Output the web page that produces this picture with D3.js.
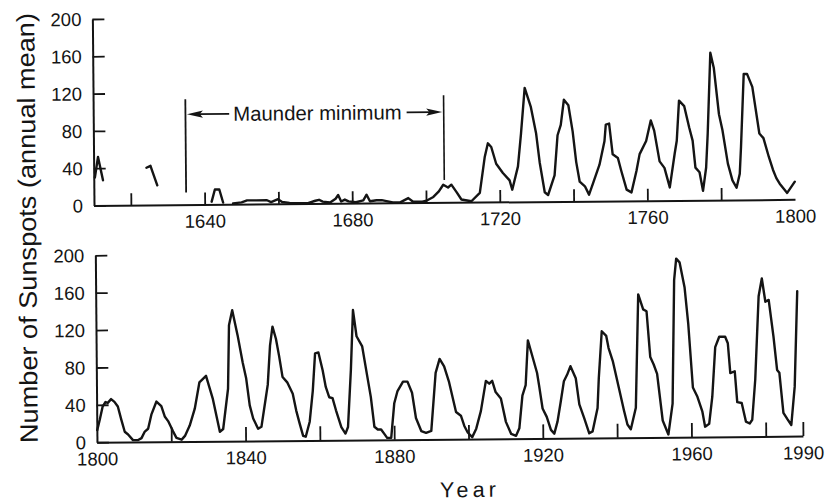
<!DOCTYPE html>
<html><head><meta charset="utf-8">
<script src="https://cdn.jsdelivr.net/npm/d3@7"></script>
<style>body{margin:0;background:#fff}svg{display:block}</style>
</head><body>
<svg id="c" width="828" height="503"></svg>
<script>
// ---- data ----
const topYears = [1610.3,1611.2,1612.5, 1618,
  1624.3,1625.4,1625.9,1627.2, 1634,
  1641.9,1642.8,1644.0,1645.0, 1646.3,
  1647.7,1650,1651.5,1654,1656.9,1658,1659.9,1661,1663,1665,1668,1670,1671,1672,1674,1675.5,1676.2,1677,1678,1679,1681,1683,1683.9,1684.8,1686.6,1688,1689.3,1691,1693,1695.2,1696.5,1699,1700.1,1702,1703.5,1704.7,1706,1706.9,1708.3,1709.6,1712.3,1714.6,1716,1716.9,1717.8,1719.1,1720.9,1722.7,1723.4,1725,1725.9,1727,1728.6,1730,1730.9,1732.2,1733.1,1734.9,1735.8,1736.7,1737.6,1738.8,1739.9,1740.8,1741.7,1743.1,1744.2,1745.3,1747.1,1748.5,1748.9,1749.8,1750.7,1752.1,1753,1754.4,1755.7,1757.1,1758,1759.8,1761.1,1762,1763.4,1764.7,1766.1,1767.5,1768.1,1768.8,1770.2,1771.5,1772.4,1773.1,1774.2,1775.1,1776,1776.5,1777.4,1778.3,1779.6,1780.5,1781.9,1783.1,1784.2,1785.1,1785.5,1786.4,1787.3,1788.7,1790.5,1791.6,1793,1794.1,1795,1795.9,1797.9,1800];
const topValues = [30,52,27, null,
  40,42,36,21, null,
  3,16,16,2, null,
  1,2,4,4,4,2,5,2,1,0.5,0.5,3,4,2,1,5,9,2,4,2,1,3,9,2,3,3,2,0.5,0.5,5,1,1,2,6,12,19,16,19,11,3,1,10,48,63,59,41,31,23,13,38,73,122,102,73,42,10,7,28,71,82,109,103,75,42,21,16,7,19,39,64,82,83,50,46,32,12,9,32,50,64,86,75,42,35,14,50,64,107,101,78,64,35,30,10,35,71,158,142,92,75,39,21,13,28,57,135,135,121,71,66,46,32,23,17,7,19];

const bottomYears = [1800.1,1800.8,1801.6,1802.4,1803.0,1803.9,1804.8,1805.7,1806.6,1807.5,1808.4,1809.7,1811.1,1812.0,1812.9,1813.8,1814.7,1816.1,1817.4,1818.3,1819.2,1820.5,1821.4,1822.8,1823.7,1825.0,1826.4,1827.7,1829.5,1831.3,1833.1,1834.0,1835.4,1835.8,1836.7,1838.1,1839.4,1840.3,1841.2,1842.1,1843.4,1844.3,1845.5,1846.1,1846.8,1847.5,1848.4,1849.2,1850.1,1851.4,1852.8,1853.7,1854.6,1855.5,1856.2,1857.3,1858.2,1858.9,1859.8,1860.9,1861.7,1862.6,1863.5,1864.4,1865.8,1866.9,1867.6,1868.5,1869.2,1870.1,1871.6,1872.9,1873.8,1874.7,1875.6,1876.5,1877.4,1878.1,1879.2,1880.1,1881.0,1882.5,1883.7,1884.9,1885.9,1887.3,1888.6,1890.0,1891.3,1892.4,1893.6,1894.9,1896.7,1898.0,1898.9,1899.8,1901.0,1902.1,1903.4,1904.8,1905.7,1906.5,1907.4,1908.8,1910.1,1911.5,1912.8,1913.7,1914.6,1915.5,1916.2,1917.3,1918.6,1919.1,1920.0,1921.1,1922.2,1923.1,1924.0,1924.9,1925.8,1926.7,1927.6,1929.0,1929.9,1931.2,1932.5,1933.4,1934.8,1935.2,1936.1,1937.3,1937.9,1939.0,1940.6,1941.9,1942.8,1943.7,1945.1,1946.0,1947.3,1948.2,1949.1,1950.0,1950.9,1952.3,1953.8,1955.0,1955.7,1956.3,1957.2,1958.5,1959.4,1960.5,1961.7,1963.0,1963.7,1964.8,1965.7,1966.6,1967.7,1969.3,1970.0,1970.6,1971.8,1972.4,1973.6,1974.7,1975.7,1976.4,1977.3,1978.4,1979.3,1980.2,1981.1,1982.3,1983.2,1983.8,1984.8,1985.9,1986.9,1987.9,1988.8];
const bottomValues = [13,24,38,43,42,46,43,38,24,11,8,2,2,4,11,14,29,43,38,27,22,11,4,2,6,17,35,63,70,45,10,13,56,124,140,113,84,67,38,24,13,15,45,60,102,122,109,91,68,62,50,32,18,5,4,20,53,93,94,75,57,46,45,32,14,7,14,75,139,111,100,68,46,14,11,11,6,2,2,39,52,62,62,50,23,9,7,9,71,86,78,61,29,25,14,7,2,11,30,62,59,62,50,43,18,5,3,11,46,57,105,89,70,57,32,23,9,5,18,39,61,68,77,64,36,21,5,7,32,64,114,109,96,82,53,29,14,9,32,153,137,135,86,78,68,18,3,36,168,191,187,160,121,53,43,27,11,14,43,96,107,107,100,68,70,37,36,16,14,18,61,150,169,144,146,107,71,68,25,18,12,53,155];

const yTickValues = [0,40,80,120,160,200];
const topTickYears = [1620,1640,1660,1680,1700,1720,1740,1760,1780];
const topLabelYears = [1640,1680,1720,1760,1800];
const bottomTickYears = [1820,1840,1860,1880,1900,1920,1940,1960,1980,1990];
const bottomLabelYears = [1800,1840,1880,1920,1960,1990];
const maunderYears = [1635,1705];
const maunderText = "Maunder minimum";
const yAxisTitle = "Number of Sunspots (annual mean)";
const xAxisTitle = "Year";

// ---- drawing ----
const INK = "#141414";
const FONT = "'Liberation Sans', Arial, Helvetica, sans-serif";
const svg = d3.select("#c");
svg.append("rect").attr("width",828).attr("height",503).attr("fill","#fff");
const root = svg.append("g").attr("transform","rotate(-0.5 414 250)");

function panel(cfg){
  const x = d3.scaleLinear().domain(cfg.xDomain).range(cfg.xRange);
  const y = d3.scaleLinear().domain([0,200]).range(cfg.yRange);
  const g = root.append("g");
  const ya = g.append("g").attr("transform",`translate(${cfg.xRange[0]},0)`)
    .call(d3.axisLeft(y).tickValues(yTickValues).tickSizeInner(-12).tickSizeOuter(0).tickPadding(11));
  ya.select(".domain").attr("stroke",INK).attr("stroke-width",2);
  ya.selectAll(".tick line").attr("stroke",INK).attr("stroke-width",1.8);
  ya.selectAll(".tick text").attr("font-family",FONT).attr("font-size",18.5).attr("fill",INK).attr("dy","0.34em");
  const xa = g.append("g").attr("transform",`translate(0,${cfg.yRange[0]})`)
    .call(d3.axisBottom(x).tickValues(cfg.ticks).tickSizeInner(-cfg.tickLen).tickSizeOuter(0).tickFormat(""));
  xa.select(".domain").attr("stroke",INK).attr("stroke-width",2);
  xa.selectAll(".tick line").attr("stroke",INK).attr("stroke-width",1.8);
  const xl = g.append("g").attr("transform",`translate(0,${cfg.yRange[0]})`)
    .call(d3.axisBottom(x).tickValues(cfg.labels).tickSize(0).tickPadding(10).tickFormat(d3.format("d")));
  xl.select(".domain").remove();
  xl.selectAll(".tick text").attr("font-family",FONT).attr("font-size",18.5).attr("fill",INK);
  const pts = cfg.years.map((yr,i)=>[yr,cfg.values[i]]);
  const line = d3.line().defined(d=>d[1]!=null).x(d=>x(d[0])).y(d=>y(d[1]));
  g.append("path").datum(pts).attr("d",line).attr("fill","none")
    .attr("stroke",INK).attr("stroke-width",2.4).attr("stroke-linejoin","round").attr("stroke-linecap","round");
  return {x,y,g};
}

const topPanel = panel({xDomain:[1610,1800], xRange:[94.4,795.4], yRange:[202.7,16.2],
  ticks:topTickYears, labels:topLabelYears, tickLen:12, years:topYears, values:topValues});
const bottomPanel = panel({xDomain:[1800,1990], xRange:[95.3,801.3], yRange:[439.5,252.5],
  ticks:bottomTickYears, labels:bottomLabelYears, tickLen:14, years:bottomYears, values:bottomValues});

// Maunder minimum annotation
(function(){
  const {x,y,g} = topPanel;
  const xl = x(maunderYears[0]), xr = x(maunderYears[1]);
  g.append("line").attr("x1",xl).attr("x2",xl).attr("y1",y(113)).attr("y2",y(13))
    .attr("stroke",INK).attr("stroke-width",1.8);
  g.append("line").attr("x1",xr).attr("x2",xr).attr("y1",y(115)).attr("y2",y(24))
    .attr("stroke",INK).attr("stroke-width",1.6);
  const cx = (233.3+401.7)/2 + 1.1, half = 84.2;
  const ay = y(97);
  g.append("text").attr("x",cx).attr("y",y(89.5)).attr("text-anchor","middle")
    .attr("font-family",FONT).attr("font-size",20.3).attr("fill",INK)
    .attr("textLength",half*2).attr("lengthAdjust","spacingAndGlyphs").text(maunderText);
  const arrow = (x0,x1)=>{
    const dir = Math.sign(x1-x0), L = 16, W = 3.6;
    g.append("line").attr("x1",x0).attr("x2",x1-dir*L*0.6).attr("y1",ay).attr("y2",ay)
      .attr("stroke",INK).attr("stroke-width",1.8);
    g.append("path").attr("d",`M${x1},${ay} L${x1-dir*L},${ay-W} L${x1-dir*L*0.8},${ay} L${x1-dir*L},${ay+W} Z`)
      .attr("fill",INK);
  };
  arrow(cx-half-4, xl+1.5);
  arrow(cx+half+5, xr-1.5);
})();

root.append("text").attr("transform","translate(36.2,224.7) rotate(-90)")
  .attr("text-anchor","middle").attr("font-family",FONT).attr("font-size",25).attr("fill",INK)
  .attr("textLength",430).attr("lengthAdjust","spacingAndGlyphs").text(yAxisTitle);
root.append("text").attr("x",465.8).attr("y",497.5).attr("text-anchor","middle")
  .attr("font-family",FONT).attr("font-size",21.5).attr("fill",INK)
  .attr("textLength",56).attr("lengthAdjust","spacing").text(xAxisTitle);
</script>
</body></html>
